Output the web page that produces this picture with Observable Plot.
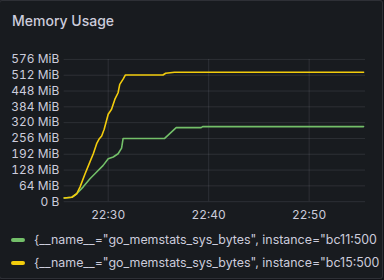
<!DOCTYPE html>
<html><head><meta charset="utf-8">
<script src="https://cdn.jsdelivr.net/npm/d3@7"></script>
<script src="https://cdn.jsdelivr.net/npm/@observablehq/plot@0.6"></script>
<style>
html,body{margin:0;padding:0;background:#111217;width:384px;height:280px;overflow:hidden;}
#panel{position:absolute;left:-1px;top:0;width:382px;height:277px;background:#181b1f;border:1px solid rgba(204,204,220,0.12);border-radius:3px;overflow:hidden;font-family:Inter,sans-serif;color:#ccccdc;}
#title{position:absolute;left:12px;top:11px;font-size:14px;font-weight:500;line-height:18px;}
#chart{position:absolute;left:0;top:43px;}
.row{position:absolute;left:11px;width:368px;height:16px;line-height:16px;font-size:12.4px;white-space:nowrap;}
.sw{display:inline-block;width:14px;height:4px;border-radius:2px;vertical-align:middle;margin-right:9px;position:relative;top:-1px;}
</style></head>
<body>
<div id="panel">
  <div id="title">Memory Usage</div>
  <div id="chart"></div>
  <div id="legend"></div>
</div>
<script>
const seriesNames = [
  '{__name__="go_memstats_sys_bytes", instance="bc11:500',
  '{__name__="go_memstats_sys_bytes", instance="bc15:500'
];
const seriesColors = ["#73BF69", "#F2CC0C"];

const bc11Times = ["22:25:37","22:26:23","22:26:52","22:27:31","22:28:11","22:28:51","22:29:30","22:30:00","22:30:30","22:30:59","22:31:20","22:31:29","22:35:37","22:36:46","22:39:15","22:39:24","22:55:25"];
const bc11MiB   = [15, 18, 32, 60, 93, 120, 147, 174, 181, 194, 217, 256, 256, 300, 300, 304, 304];

const bc15Times = ["22:25:37","22:26:23","22:26:52","22:27:12","22:27:42","22:28:11","22:28:31","22:28:51","22:29:07","22:29:21","22:29:36","22:30:00","22:30:20","22:30:40","22:30:59","22:31:09","22:31:29","22:31:43","22:35:27","22:35:43","22:36:36","22:55:25"];
const bc15MiB   = [15, 18, 32, 60, 113, 161, 194, 235, 255, 266, 293, 354, 374, 415, 441, 475, 496, 513, 513, 520, 524, 524];

const yTicks = [0, 64, 128, 192, 256, 320, 384, 448, 512, 576];
const xTickLabels = ["22:30", "22:40", "22:50"];
const xDomainLabels = ["22:25:37", "22:55:37"];

const parseT = d3.utcParse("%H:%M:%S");
const parseHM = d3.utcParse("%H:%M");
const xTicks = xTickLabels.map(parseHM);

const rows = [];
bc11Times.forEach((t, i) => rows.push({time: parseT(t), mib: bc11MiB[i], series: seriesNames[0]}));
bc15Times.forEach((t, i) => rows.push({time: parseT(t), mib: bc15MiB[i], series: seriesNames[1]}));

const chart = Plot.plot({
  width: 384, height: 180,
  marginLeft: 64, marginRight: 17, marginTop: 15, marginBottom: 22,
  style: {background: "transparent", color: "#ccccdc", fontFamily: "Inter, sans-serif", fontSize: "12px", overflow: "visible"},
  x: {type: "utc", domain: xDomainLabels.map(parseT), ticks: xTicks, tickFormat: d3.utcFormat("%H:%M"), tickSize: 0, tickPadding: 9, label: null},
  y: {domain: [0, 576], ticks: yTicks, tickFormat: d => d === 0 ? "0 B" : d + " MiB", tickSize: 0, tickPadding: 5, label: null},
  color: {domain: seriesNames, range: seriesColors},
  marks: [
    Plot.gridY(yTicks, {stroke: "#ccccdc", strokeOpacity: 0.12}),
    Plot.gridX(xTicks, {stroke: "#ccccdc", strokeOpacity: 0.12}),
    Plot.lineY(rows, {x: "time", y: "mib", z: "series", stroke: "series", strokeWidth: 1.6})
  ]
});
document.getElementById("chart").appendChild(chart);

const legend = document.getElementById("legend");
seriesNames.forEach((name, i) => {
  const r = document.createElement("div");
  r.className = "row";
  r.style.top = (231 + i * 23) + "px";
  const sw = document.createElement("span");
  sw.className = "sw";
  sw.style.background = seriesColors[i];
  r.appendChild(sw);
  r.appendChild(document.createTextNode(name));
  legend.appendChild(r);
});
</script>
</body></html>
